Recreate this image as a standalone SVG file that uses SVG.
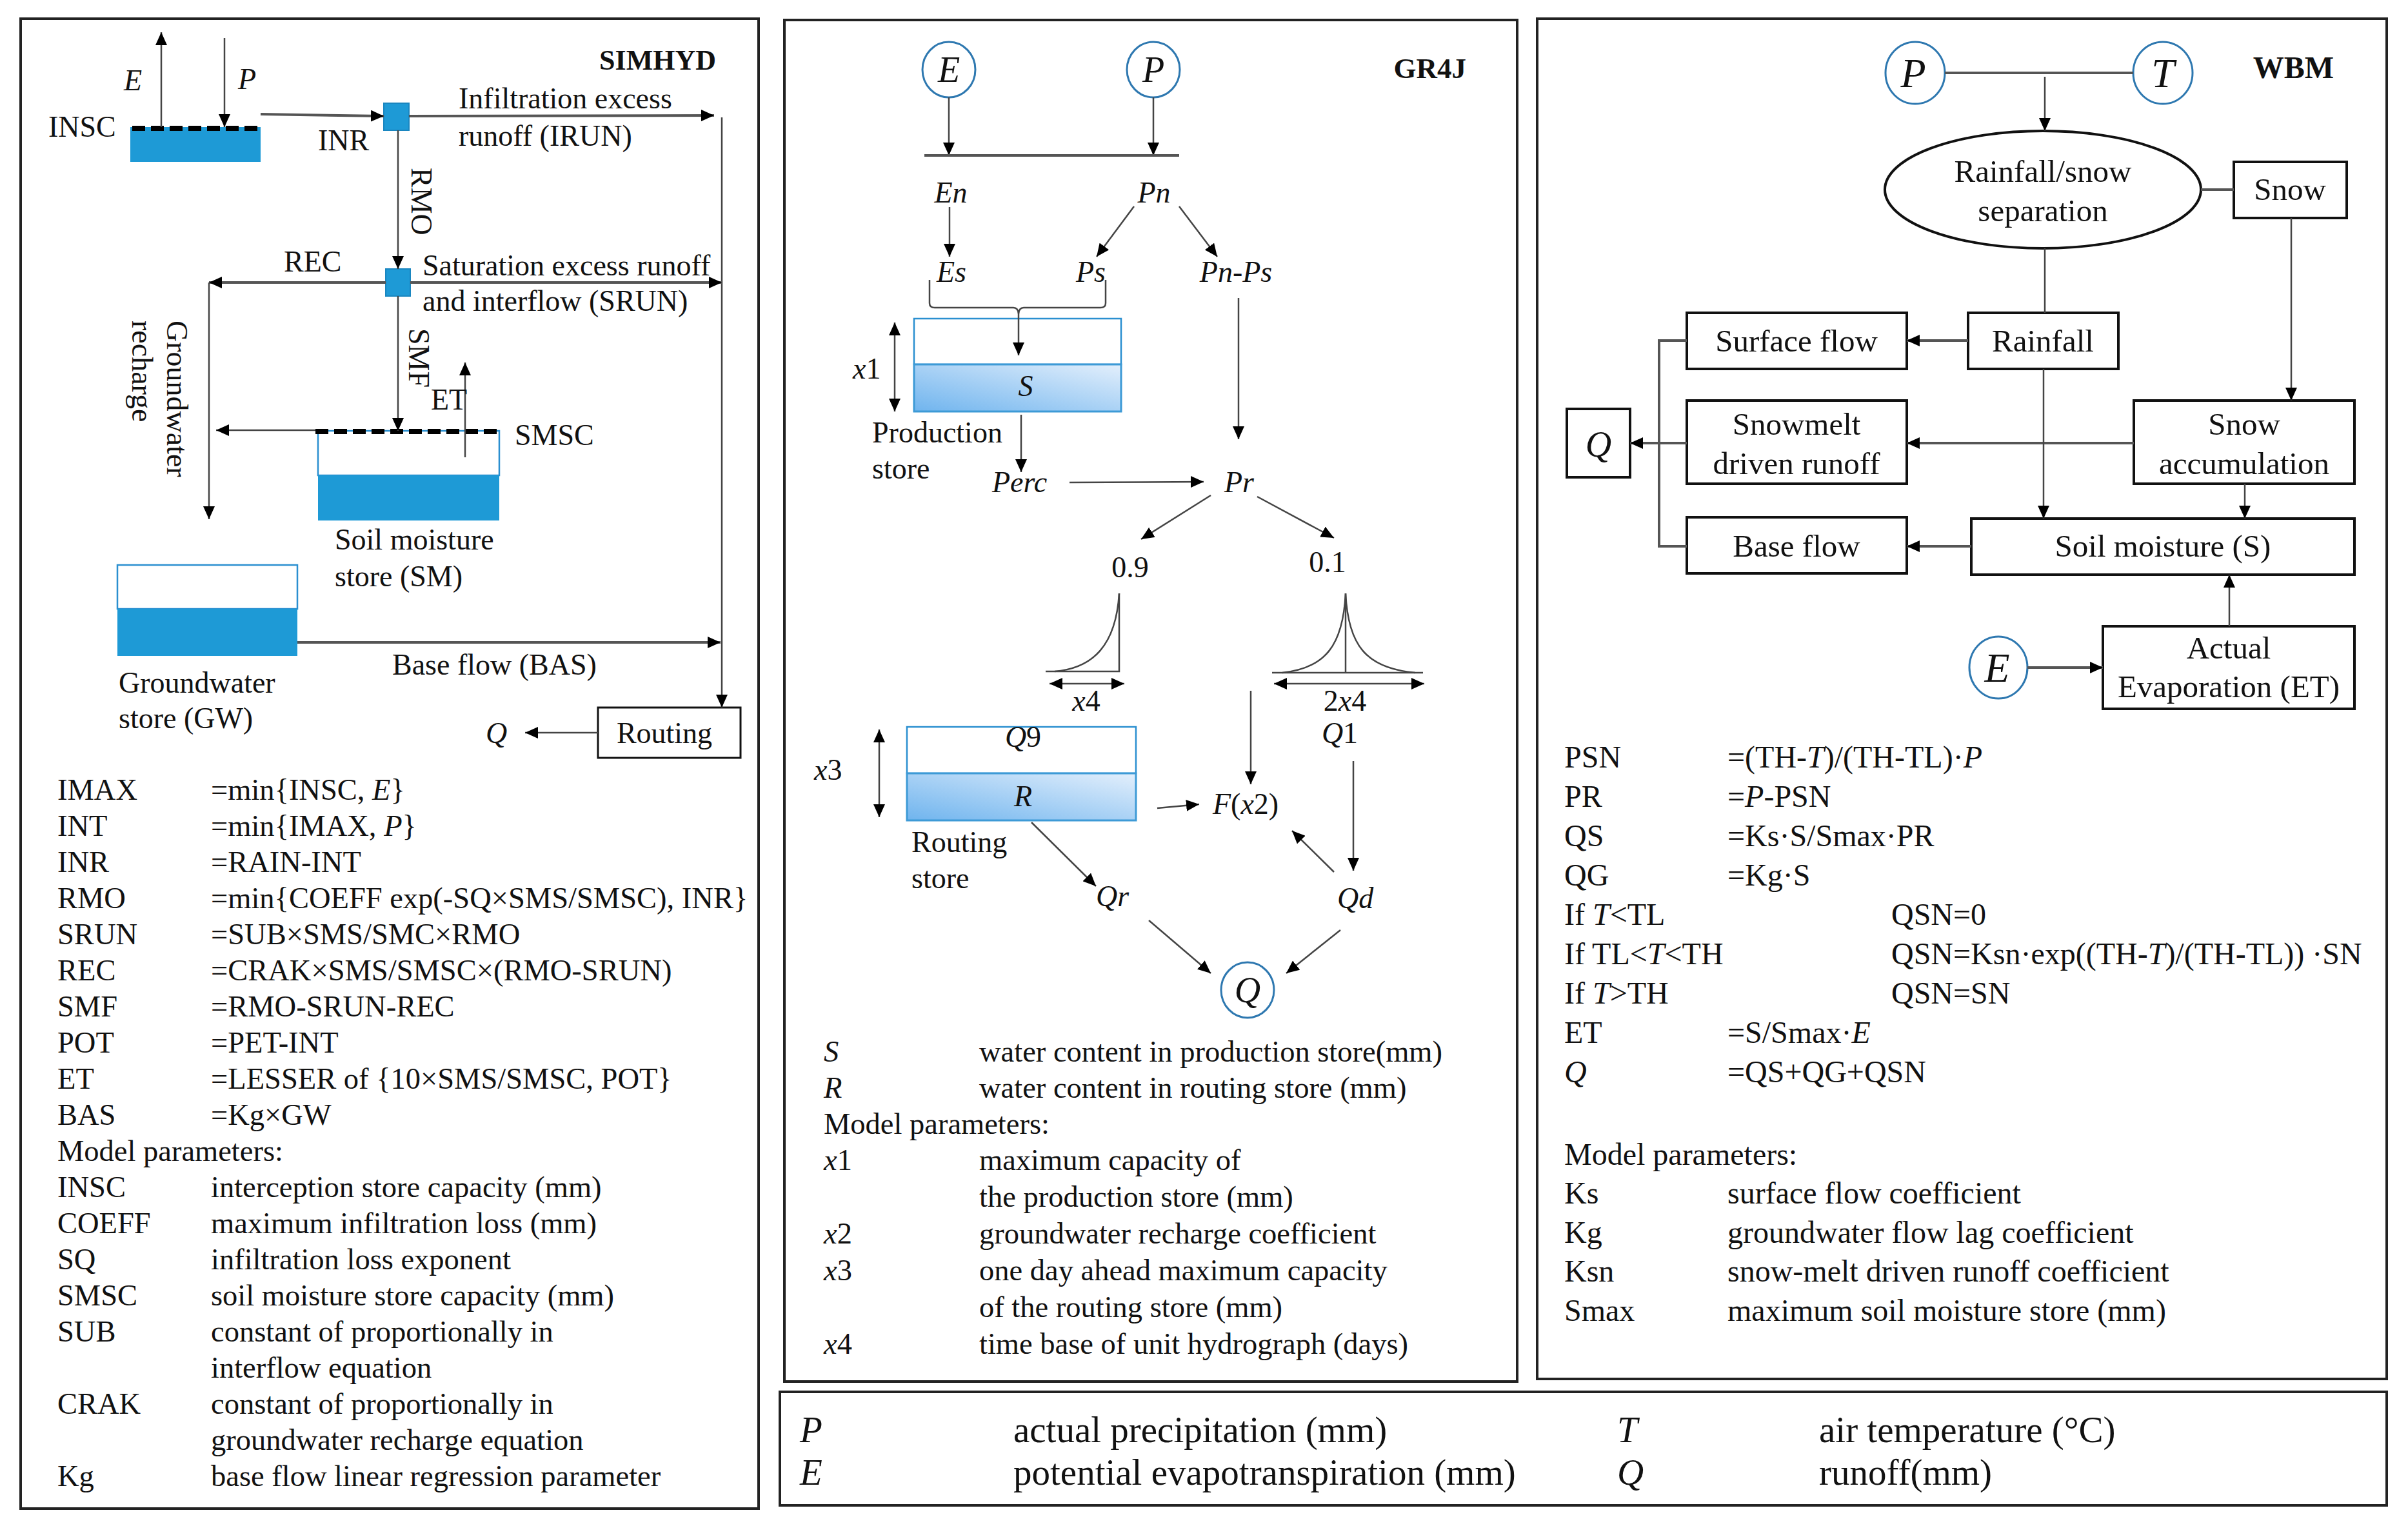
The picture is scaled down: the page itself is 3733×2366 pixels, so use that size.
<svg xmlns="http://www.w3.org/2000/svg" width="3733" height="2366" viewBox="0 0 3733 2366">
<style>
.t{font-family:"Liberation Serif","Times New Roman",serif;font-size:46px;fill:#111}
.m{text-anchor:middle}
.e{text-anchor:end}
.i{font-style:italic}
.b{font-weight:bold}
.f{font-size:46.5px}
.g{font-size:46.5px}
.w{font-size:49px}
.we{font-size:48px}
.lg{font-size:57px}
.c56{font-size:56px}
.c64{font-size:64px}
.ln{stroke:#444;stroke-width:2.5;fill:none}
.tk{stroke:#555;stroke-width:4;fill:none}
.a{marker-end:url(#ah)}
.d{marker-start:url(#ah);marker-end:url(#ah)}
.panel{fill:none;stroke:#222;stroke-width:4}
.box{fill:#fff;stroke:#111;stroke-width:4}
.blue{fill:#1e9ad6}
.bo{fill:#fff;stroke:#2a8fd0;stroke-width:2.5}
.cir{fill:#fff;stroke:#2e78b0;stroke-width:3}
.gs{fill:url(#gb);stroke:#3d9ad6;stroke-width:3}
.dash{stroke:#000;stroke-width:8;stroke-dasharray:20 9;fill:none}
</style>
<defs>
<marker id="ah" viewBox="0 0 20 18" refX="20" refY="9" markerWidth="20" markerHeight="18" markerUnits="userSpaceOnUse" orient="auto-start-reverse"><path d="M0,0 L20,9 L0,18 z" fill="#000"/></marker>
<linearGradient id="gb" x1="0" y1="1" x2="1" y2="0"><stop offset="0" stop-color="#6fb4ee"/><stop offset="1" stop-color="#e3effc"/></linearGradient>
</defs>
<rect width="3733" height="2366" fill="#fff"/>

<!-- ========== SIMHYD ========== -->
<g id="simhyd">
<rect class="panel" x="32" y="29" width="1144" height="2310"/>
<text class="t b e" x="1110" y="108" style="font-size:44px">SIMHYD</text>
<g id="insc">
<rect class="blue" x="202" y="197" width="202" height="54"/>
<line class="dash" x1="205" y1="199" x2="404" y2="199"/>
<text class="t" x="75" y="212">INSC</text>
</g>
<g id="sq1"><rect class="blue" x="595" y="160" width="39" height="42" stroke="#1a86c0" stroke-width="2"/></g>
<g id="sq2"><rect class="blue" x="598" y="417" width="38" height="42" stroke="#1a86c0" stroke-width="2"/></g>
<g id="sm">
<rect class="bo" x="493" y="668" width="281" height="69"/>
<rect class="blue" x="493" y="737" width="281" height="70"/>
<line class="dash" x1="489" y1="669" x2="776" y2="669"/>
<text class="t" x="798" y="690">SMSC</text>
<text class="t" x="519" y="852">Soil moisture</text>
<text class="t" x="519" y="909">store (SM)</text>
</g>
<g id="gw">
<rect class="bo" x="182" y="876" width="279" height="68"/>
<rect class="blue" x="182" y="944" width="279" height="73"/>
<text class="t" x="184" y="1074">Groundwater</text>
<text class="t" x="184" y="1129">store (GW)</text>
</g>
<g id="routing">
<rect x="927" y="1097" width="221" height="78" fill="#fff" stroke="#111" stroke-width="3"/>
<text class="t m" x="1030" y="1152">Routing</text>
</g>
<g id="simhyd-connectors">
<line class="ln a" x1="250" y1="197" x2="250" y2="50"/>
<line class="ln a" x1="348" y1="59" x2="348" y2="197"/>
<line class="tk a" x1="404" y1="177" x2="595" y2="180"/>
<line class="tk a" x1="634" y1="180" x2="1107" y2="179"/>
<line class="ln a" x1="1119" y1="182" x2="1119" y2="1097"/>
<line class="ln a" x1="617" y1="202" x2="617" y2="417"/>
<line class="tk a" x1="598" y1="438" x2="324" y2="438"/>
<line class="tk a" x1="636" y1="438" x2="1119" y2="438"/>
<line class="ln a" x1="324" y1="438" x2="324" y2="805"/>
<line class="ln a" x1="617" y1="459" x2="617" y2="668"/>
<line class="ln a" x1="721" y1="709" x2="721" y2="562"/>
<line class="ln a" x1="489" y1="667" x2="335" y2="667"/>
<line class="tk a" x1="461" y1="996" x2="1117" y2="996"/>
<line class="ln a" x1="927" y1="1136" x2="814" y2="1136"/>
</g>
<text class="t i" x="192" y="140">E</text>
<text class="t i" x="369" y="138">P</text>
<text class="t" x="493" y="233">INR</text>
<text class="t" x="711" y="168">Infiltration excess</text>
<text class="t" x="711" y="226">runoff (IRUN)</text>
<text class="t" transform="translate(638,260) rotate(90)">RMO</text>
<text class="t" x="440" y="421">REC</text>
<text class="t" x="655" y="427">Saturation excess runoff</text>
<text class="t" x="655" y="482">and interflow (SRUN)</text>
<text class="t" transform="translate(259,497) rotate(90)">Groundwater</text>
<text class="t" transform="translate(205,497) rotate(90)">recharge</text>
<text class="t" transform="translate(634,509) rotate(90)">SMF</text>
<text class="t" x="668" y="635">ET</text>
<text class="t" x="608" y="1046">Base flow (BAS)</text>
<text class="t i" x="753" y="1152">Q</text>
<g id="simhyd-eq" class="t f">
<text x="89" y="1240">IMAX</text><text x="327" y="1240">=min{INSC, <tspan class="i">E</tspan>}</text>
<text x="89" y="1296">INT</text><text x="327" y="1296">=min{IMAX, <tspan class="i">P</tspan>}</text>
<text x="89" y="1352">INR</text><text x="327" y="1352">=RAIN-INT</text>
<text x="89" y="1408">RMO</text><text x="327" y="1408">=min{COEFF exp(-SQ×SMS/SMSC), INR}</text>
<text x="89" y="1464">SRUN</text><text x="327" y="1464">=SUB×SMS/SMC×RMO</text>
<text x="89" y="1520">REC</text><text x="327" y="1520">=CRAK×SMS/SMSC×(RMO-SRUN)</text>
<text x="89" y="1576">SMF</text><text x="327" y="1576">=RMO-SRUN-REC</text>
<text x="89" y="1632">POT</text><text x="327" y="1632">=PET-INT</text>
<text x="89" y="1688">ET</text><text x="327" y="1688">=LESSER of {10×SMS/SMSC, POT}</text>
<text x="89" y="1744">BAS</text><text x="327" y="1744">=Kg×GW</text>
<text x="89" y="1800">Model parameters:</text>
<text x="89" y="1856">INSC</text><text x="327" y="1856">interception store capacity (mm)</text>
<text x="89" y="1912">COEFF</text><text x="327" y="1912">maximum infiltration loss (mm)</text>
<text x="89" y="1968">SQ</text><text x="327" y="1968">infiltration loss exponent</text>
<text x="89" y="2024">SMSC</text><text x="327" y="2024">soil moisture store capacity (mm)</text>
<text x="89" y="2080">SUB</text><text x="327" y="2080">constant of proportionally in</text>
<text x="327" y="2136">interflow equation</text>
<text x="89" y="2192">CRAK</text><text x="327" y="2192">constant of proportionally in</text>
<text x="327" y="2248">groundwater recharge equation</text>
<text x="89" y="2304">Kg</text><text x="327" y="2304">base flow linear regression parameter</text>
</g>
</g>

<!-- ========== GR4J ========== -->
<g id="gr4j">
<rect class="panel" x="1216" y="31" width="1136" height="2111"/>
<text class="t b e" x="2273" y="121" style="font-size:45px">GR4J</text>
<g id="gE"><ellipse class="cir" cx="1471" cy="108" rx="41" ry="43"/><text class="t i m c56" x="1471" y="127">E</text></g>
<g id="gP"><ellipse class="cir" cx="1788" cy="108" rx="41" ry="43"/><text class="t i m c56" x="1788" y="127">P</text></g>
<g id="prod">
<rect class="bo" x="1417" y="494" width="321" height="71" stroke="#3d9ad6"/>
<rect class="gs" x="1417" y="565" width="321" height="73"/>
<text class="t i m" x="1590" y="614">S</text>
<text class="t" x="1352" y="686">Production</text>
<text class="t" x="1352" y="742">store</text>
</g>
<g id="rout">
<rect class="bo" x="1406" y="1127" width="355" height="72" stroke="#3d9ad6"/>
<rect class="gs" x="1406" y="1199" width="355" height="73"/>
<text class="t m" x="1586" y="1158"><tspan class="i">Q</tspan>9</text>
<text class="t i m" x="1586" y="1250">R</text>
<text class="t" x="1413" y="1321">Routing</text>
<text class="t" x="1413" y="1377">store</text>
</g>
<g id="gQ"><ellipse class="cir" cx="1934" cy="1535" rx="41" ry="43"/><text class="t i m c56" x="1934" y="1554">Q</text></g>
<g id="uh1">
<path class="ln" d="M1621,1041 L1735,1041 L1735,920"/>
<path class="ln" d="M1635,1041 C1695,1036 1730,1000 1735,920"/>
</g>
<g id="uh2">
<path class="ln" d="M1972,1043 L2206,1043 M2086,920 L2086,1043"/>
<path class="ln" d="M1988,1043 C2055,1036 2082,1000 2086,920 C2090,1000 2117,1036 2194,1043"/>
</g>
<g id="gr4j-connectors">
<line class="ln a" x1="1471" y1="151" x2="1471" y2="241"/>
<line class="ln a" x1="1788" y1="151" x2="1788" y2="241"/>
<line class="tk" x1="1433" y1="241" x2="1828" y2="241"/>
<line class="ln a" x1="1472" y1="321" x2="1472" y2="398"/>
<line class="ln a" x1="1758" y1="320" x2="1700" y2="398"/>
<line class="ln a" x1="1828" y1="320" x2="1887" y2="398"/>
<path class="ln" d="M1441,434 L1441,470 Q1441,477 1449,477 L1571,477 Q1578,477 1579,486 Q1580,477 1587,477 L1706,477 Q1714,477 1714,470 L1714,434"/>
<line class="ln a" x1="1579" y1="482" x2="1579" y2="551"/>
<line class="ln d" x1="1387" y1="500" x2="1387" y2="638"/>
<line class="ln a" x1="1583" y1="643" x2="1583" y2="732"/>
<line class="ln a" x1="1658" y1="748" x2="1866" y2="747"/>
<line class="ln a" x1="1920" y1="462" x2="1920" y2="681"/>
<line class="ln a" x1="1877" y1="768" x2="1769" y2="836"/>
<line class="ln a" x1="1949" y1="770" x2="2068" y2="834"/>
<line class="ln d" x1="1627" y1="1060" x2="1743" y2="1060"/>
<line class="ln d" x1="1975" y1="1060" x2="2208" y2="1060"/>
<line class="ln d" x1="1363" y1="1131" x2="1363" y2="1267"/>
<line class="ln a" x1="1794" y1="1253" x2="1859" y2="1247"/>
<line class="ln a" x1="1939" y1="1071" x2="1939" y2="1216"/>
<line class="ln a" x1="2098" y1="1180" x2="2098" y2="1350"/>
<line class="ln a" x1="2068" y1="1352" x2="2003" y2="1288"/>
<line class="ln a" x1="1599" y1="1275" x2="1699" y2="1374"/>
<line class="ln a" x1="1781" y1="1427" x2="1877" y2="1509"/>
<line class="ln a" x1="2078" y1="1442" x2="1994" y2="1509"/>
</g>
<text class="t i m" x="1474" y="314">En</text>
<text class="t i m" x="1789" y="314">Pn</text>
<text class="t i m" x="1475" y="437">Es</text>
<text class="t i m" x="1691" y="437">Ps</text>
<text class="t i m" x="1916" y="437">Pn-Ps</text>
<text class="t" x="1322" y="587"><tspan class="i">x</tspan>1</text>
<text class="t i" x="1538" y="763">Perc</text>
<text class="t i" x="1898" y="763">Pr</text>
<text class="t m" x="1752" y="895">0.9</text>
<text class="t m" x="2058" y="887">0.1</text>
<text class="t m" x="1684" y="1102"><tspan class="i">x</tspan>4</text>
<text class="t m" x="2085" y="1102">2<tspan class="i">x</tspan>4</text>
<text class="t m" x="2077" y="1152"><tspan class="i">Q</tspan>1</text>
<text class="t" x="1262" y="1209"><tspan class="i">x</tspan>3</text>
<text class="t" x="1880" y="1262"><tspan class="i">F</tspan>(<tspan class="i">x</tspan>2)</text>
<text class="t i" x="1699" y="1405">Qr</text>
<text class="t i" x="2073" y="1408">Qd</text>
<g id="gr4j-eq" class="t g">
<text class="i" x="1277" y="1646">S</text><text x="1518" y="1646">water content in production store(mm)</text>
<text class="i" x="1277" y="1702">R</text><text x="1518" y="1702">water content in routing store (mm)</text>
<text x="1277" y="1758">Model parameters:</text>
<text x="1277" y="1814"><tspan class="i">x</tspan>1</text><text x="1518" y="1814">maximum capacity of</text>
<text x="1518" y="1871">the production store (mm)</text>
<text x="1277" y="1928"><tspan class="i">x</tspan>2</text><text x="1518" y="1928">groundwater recharge coefficient</text>
<text x="1277" y="1985"><tspan class="i">x</tspan>3</text><text x="1518" y="1985">one day ahead maximum capacity</text>
<text x="1518" y="2042">of the routing store (mm)</text>
<text x="1277" y="2099"><tspan class="i">x</tspan>4</text><text x="1518" y="2099">time base of unit hydrograph (days)</text>
</g>
</g>

<!-- ========== WBM ========== -->
<g id="wbm">
<rect class="panel" x="2383" y="29" width="1317" height="2109"/>
<text class="t b e" x="3618" y="121" style="font-size:48px">WBM</text>
<g id="wP"><ellipse class="cir" cx="2969" cy="113" rx="46" ry="48"/><text class="t i m c64" x="2966" y="135">P</text></g>
<g id="wT"><ellipse class="cir" cx="3353" cy="113" rx="46" ry="48"/><text class="t i m c64" x="3353" y="135">T</text></g>
<g id="sep"><ellipse cx="3167" cy="294" rx="245" ry="91" fill="#fff" stroke="#111" stroke-width="4"/>
<text class="t m w" x="3167" y="282">Rainfall/snow</text><text class="t m w" x="3167" y="343">separation</text></g>
<g id="snow"><rect class="box" x="3463" y="251" width="175" height="87"/><text class="t m w" x="3550" y="310">Snow</text></g>
<g id="rain"><rect class="box" x="3051" y="485" width="233" height="87"/><text class="t m w" x="3167" y="545">Rainfall</text></g>
<g id="surf"><rect class="box" x="2615" y="485" width="341" height="87"/><text class="t m w" x="2785" y="545">Surface flow</text></g>
<g id="snowacc"><rect class="box" x="3308" y="621" width="342" height="129"/><text class="t m w" x="3479" y="674">Snow</text><text class="t m w" x="3479" y="735">accumulation</text></g>
<g id="snowmelt"><rect class="box" x="2615" y="621" width="341" height="129"/><text class="t m w" x="2785" y="674">Snowmelt</text><text class="t m w" x="2785" y="735">driven runoff</text></g>
<g id="wQ"><rect class="box" x="2429" y="634" width="98" height="106"/><text class="t i m c56" x="2478" y="708">Q</text></g>
<g id="soil"><rect class="box" x="3056" y="804" width="594" height="87"/><text class="t m w" x="3353" y="863">Soil moisture (S)</text></g>
<g id="base"><rect class="box" x="2615" y="802" width="341" height="87"/><text class="t m w" x="2785" y="863">Base flow</text></g>
<g id="aet"><rect class="box" x="3260" y="971" width="390" height="128"/><text class="t m w" x="3455" y="1021">Actual</text><text class="t m w" x="3455" y="1081">Evaporation (ET)</text></g>
<g id="wE"><ellipse class="cir" cx="3098" cy="1035" rx="45" ry="48"/><text class="t i m c64" x="3096" y="1057">E</text></g>
<g id="wbm-connectors">
<line class="tk" x1="3015" y1="113" x2="3307" y2="113"/>
<line class="ln a" x1="3170" y1="119" x2="3170" y2="203"/>
<line class="tk" x1="3412" y1="294" x2="3463" y2="294"/>
<line class="ln a" x1="3552" y1="338" x2="3552" y2="621"/>
<line class="ln" x1="3170" y1="385" x2="3170" y2="485"/>
<line class="tk a" x1="3051" y1="528" x2="2956" y2="528"/>
<path class="tk" d="M2615,528 L2572,528 L2572,847 L2615,847" stroke-width="3"/>
<line class="tk a" x1="3308" y1="687" x2="2956" y2="687"/>
<line class="tk a" x1="2615" y1="687" x2="2527" y2="687"/>
<line class="ln a" x1="3168" y1="572" x2="3168" y2="804"/>
<line class="ln a" x1="3480" y1="750" x2="3480" y2="804"/>
<line class="tk a" x1="3056" y1="847" x2="2956" y2="847"/>
<line class="ln a" x1="3456" y1="971" x2="3456" y2="891"/>
<line class="tk a" x1="3143" y1="1035" x2="3260" y2="1035"/>
</g>
<g id="wbm-eq" class="t we">
<text x="2425" y="1190">PSN</text><text x="2678" y="1190">=(TH-<tspan class="i">T</tspan>)/(TH-TL)·<tspan class="i">P</tspan></text>
<text x="2425" y="1251">PR</text><text x="2678" y="1251">=<tspan class="i">P</tspan>-PSN</text>
<text x="2425" y="1312">QS</text><text x="2678" y="1312">=Ks·S/Smax·PR</text>
<text x="2425" y="1373">QG</text><text x="2678" y="1373">=Kg·S</text>
<text x="2425" y="1434">If <tspan class="i">T</tspan>&lt;TL</text><text x="2932" y="1434">QSN=0</text>
<text x="2425" y="1495">If TL&lt;<tspan class="i">T</tspan>&lt;TH</text><text x="2932" y="1495">QSN=Ksn·exp((TH-<tspan class="i">T</tspan>)/(TH-TL)) ·SN</text>
<text x="2425" y="1556">If <tspan class="i">T</tspan>&gt;TH</text><text x="2932" y="1556">QSN=SN</text>
<text x="2425" y="1617">ET</text><text x="2678" y="1617">=S/Smax·<tspan class="i">E</tspan></text>
<text class="i" x="2425" y="1678">Q</text><text x="2678" y="1678">=QS+QG+QSN</text>
<text x="2425" y="1806">Model parameters:</text>
<text x="2425" y="1866">Ks</text><text x="2678" y="1866">surface flow coefficient</text>
<text x="2425" y="1927">Kg</text><text x="2678" y="1927">groundwater flow lag coefficient</text>
<text x="2425" y="1987">Ksn</text><text x="2678" y="1987">snow-melt driven runoff coefficient</text>
<text x="2425" y="2048">Smax</text><text x="2678" y="2048">maximum soil moisture store (mm)</text>
</g>
</g>

<!-- ========== Legend ========== -->
<g id="legend" class="t lg">
<rect class="panel" x="1209" y="2158" width="2491" height="176"/>
<text class="i" x="1240" y="2236">P</text><text x="1571" y="2236">actual precipitation (mm)</text>
<text class="i" x="2507" y="2236">T</text><text x="2820" y="2236">air temperature (°C)</text>
<text class="i" x="1240" y="2302">E</text><text x="1571" y="2302">potential evapotranspiration (mm)</text>
<text class="i" x="2507" y="2302">Q</text><text x="2820" y="2302">runoff(mm)</text>
</g>
</svg>
